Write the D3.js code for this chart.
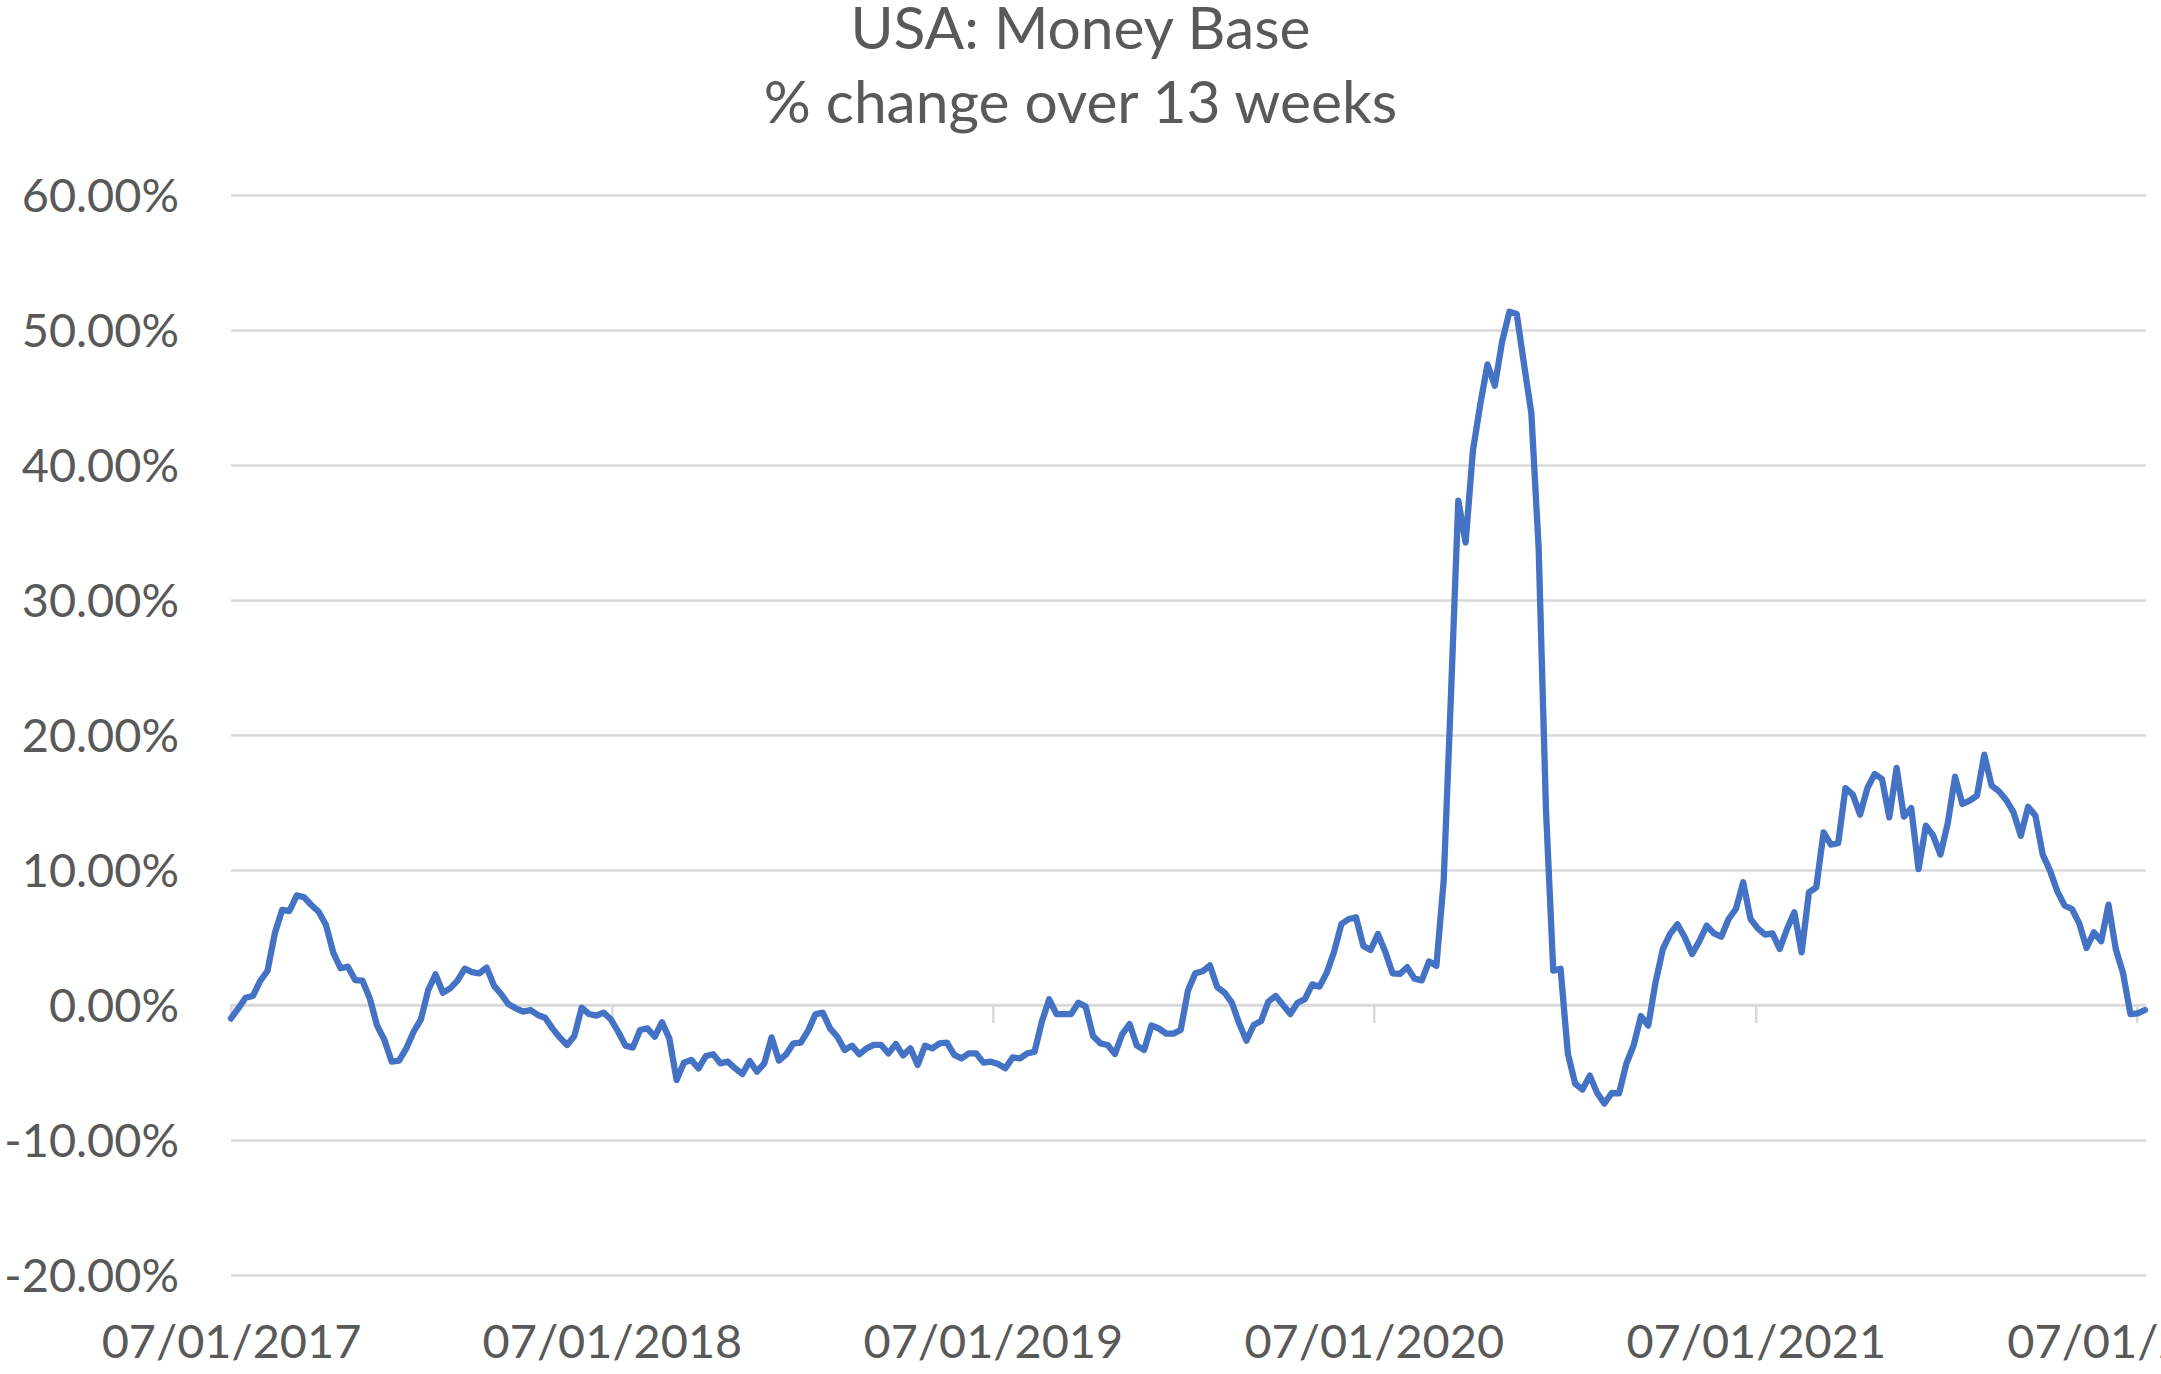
<!DOCTYPE html>
<html><head><meta charset="utf-8">
<script src="https://cdn.jsdelivr.net/npm/d3@7/dist/d3.min.js"></script>
<style>html,body{margin:0;padding:0;background:#fff;overflow:hidden}</style>
</head><body>
<svg id="chart" width="2161" height="1374"></svg>
<script>
const titleLines = ["USA: Money Base", "% change over 13 weeks"];
const firstWeek = "2017-01-07";   // weekly observations start here
const v2017 = [-0.99,-0.25,0.54,0.67,1.78,2.54,5.31,7.04,6.96,8.12,
  7.98,7.41,6.91,5.93,3.88,2.72,2.84,1.85,1.80,0.49,
  -1.53,-2.59,-4.20,-4.12,-3.21,-1.98,-1.06,1.11,2.27,0.91,
  1.23,1.80,2.69,2.44,2.35,2.77,1.43,0.79,0.05,-0.25,
  -0.49,-0.37,-0.74,-0.94,-1.73,-2.40,-2.96,-2.30,-0.20,-0.67,
  -0.79,-0.57];
const v2018 = [-1.06,-1.98,-3.01,-3.16,-1.85,-1.73,-2.35,-1.28,-2.47,-5.56,
  -4.27,-4.07,-4.69,-3.78,-3.65,-4.32,-4.20,-4.69,-5.11,-4.15,
  -4.94,-4.32,-2.40,-4.12,-3.65,-2.84,-2.79,-1.90,-0.69,-0.57,
  -1.73,-2.35,-3.33,-3.01,-3.65,-3.21,-2.96,-2.96,-3.58,-2.89,
  -3.73,-3.21,-4.44,-3.01,-3.21,-2.84,-2.79,-3.70,-3.95,-3.58,
  -3.58,-4.27];
const v2019 = [-4.20,-4.37,-4.69,-3.88,-3.95,-3.58,-3.46,-1.23,0.42,-0.67,
  -0.67,-0.67,0.17,-0.12,-2.30,-2.84,-2.96,-3.63,-2.15,-1.41,
  -3.01,-3.33,-1.52,-1.73,-2.12,-2.12,-1.85,1.08,2.35,2.50,
  2.93,1.33,0.91,0.17,-1.36,-2.64,-1.48,-1.19,0.25,0.67,
  0.00,-0.67,0.17,0.44,1.53,1.36,2.40,3.95,6.00,6.37,
  6.49,4.37];
const v2020 = [4.07,5.26,3.95,2.35,2.30,2.80,1.95,1.82,3.23,2.90,
  9.20,23.0,37.36,34.26,41.06,44.47,47.45,45.87,49.15,51.36,
  51.19,47.45,43.83,33.83,14.47,2.55,2.68,-3.62,-5.83,-6.26,
  -5.23,-6.51,-7.30,-6.52,-6.55,-4.35,-3.00,-0.82,-1.52,1.68,
  4.14,5.27,5.98,5.02,3.77,4.73,5.88,5.31,5.06,6.37,
  7.11,9.09];
const v2021 = [6.37,5.68,5.21,5.31,4.15,5.63,6.86,3.90,8.35,8.72,
  12.79,11.88,11.98,16.07,15.58,14.10,16.07,17.11,16.74,13.90,
  17.56,13.95,14.59,10.07,13.28,12.54,11.14,13.46,16.91,14.89,
  15.14,15.51,18.54,16.25,15.83,15.19,14.27,12.54,14.69,14.02,
  11.14,9.95,8.42,7.36,7.11,6.05,4.22,5.38,4.72,7.43,
  4.15,2.35];
const v2022 = [-0.67,-0.62,-0.37];
const yTicks = [-20,-10,0,10,20,30,40,50,60];
const xTickDates = ["2017-01-07","2018-01-07","2019-01-07","2020-01-07","2021-01-07","2022-01-07"];

const pctChange = [].concat(v2017, v2018, v2019, v2020, v2021, v2022);
const parse = d3.timeParse("%Y-%m-%d");
const start = parse(firstWeek);
const data = pctChange.map((v, i) => ({date: d3.timeDay.offset(start, 7 * i), value: v}));

const L = 231, R = 2146, T = 195, B = 1275;
const textColor = "#595959", gridColor = "#D9D9D9", lineColor = "#4472C4";
const font = "Lato, 'Open Sans', sans-serif";

const svg = d3.select("#chart");
const x = d3.scaleTime().domain(d3.extent(data, d => d.date)).range([L, 2145]);
const y = d3.scaleLinear().domain([-20, 60]).range([B, T]);

// Title
const title = svg.append("g").attr("fill", textColor).attr("font-family", font).attr("text-anchor", "middle");
const tl = title.selectAll("text").data(titleLines).join("text")
  .attr("x", 1080.5).attr("y", (d, i) => i === 0 ? 49 : 123)
  .attr("font-size", 60).text(d => d);

// Y axis with gridlines
const yAxis = svg.append("g").attr("transform", `translate(${L},0)`)
  .call(d3.axisLeft(y).tickValues(yTicks).tickSize(-(R - L)).tickPadding(52)
    .tickFormat(d => d.toFixed(2) + "%"));
yAxis.select(".domain").remove();
yAxis.selectAll(".tick line").attr("stroke", gridColor).attr("stroke-width", 2.5);
yAxis.selectAll(".tick text").attr("fill", textColor).attr("font-family", font)
  .attr("font-size", 47).attr("dy", "0.35em");

// X axis line at 0% with tick marks
const xAxisLine = svg.append("g").attr("transform", `translate(0,${y(0)})`)
  .call(d3.axisBottom(x).tickValues(xTickDates.map(parse)).tickSize(18).tickSizeOuter(0).tickFormat(""));
xAxisLine.select(".domain").attr("stroke", gridColor).attr("stroke-width", 2.5)
  .attr("d", `M${L},0H${R}`);
xAxisLine.selectAll(".tick line").attr("stroke", gridColor).attr("stroke-width", 2.5);

// X labels at the bottom
const xLabels = svg.append("g").attr("transform", `translate(0,${B})`)
  .call(d3.axisBottom(x).tickValues(xTickDates.map(parse)).tickSize(0)
    .tickFormat(d3.timeFormat("%d/%m/%Y")));
xLabels.select(".domain").remove();
xLabels.selectAll(".tick text").attr("fill", textColor).attr("font-family", font)
  .attr("font-size", 47).attr("y", 83).attr("dy", null);

// Line
svg.append("path").datum(data)
  .attr("fill", "none").attr("stroke", lineColor).attr("stroke-width", 6.3)
  .attr("stroke-linejoin", "round").attr("stroke-linecap", "round")
  .attr("d", d3.line().x(d => x(d.date)).y(d => y(d.value)));

// Fit font sizes to the reference text widths
function fit(sel, target) {
  const node = sel.node();
  const w = node.getComputedTextLength();
  const fs = parseFloat(sel.attr("font-size"));
  return fs * target / w;
}
const tSize = (fit(tl.filter((d, i) => i === 0), 457) + fit(tl.filter((d, i) => i === 1), 638)) / 2;
tl.attr("font-size", tSize);
const ySize = fit(yAxis.selectAll(".tick text").filter(d => d === 60), 159);
const xSize = fit(xLabels.selectAll(".tick text").filter((d, i) => i === 0), 257);
const axSize = (ySize + xSize) / 2;
yAxis.selectAll(".tick text").attr("font-size", axSize);
xLabels.selectAll(".tick text").attr("font-size", axSize);
</script>
</body></html>
